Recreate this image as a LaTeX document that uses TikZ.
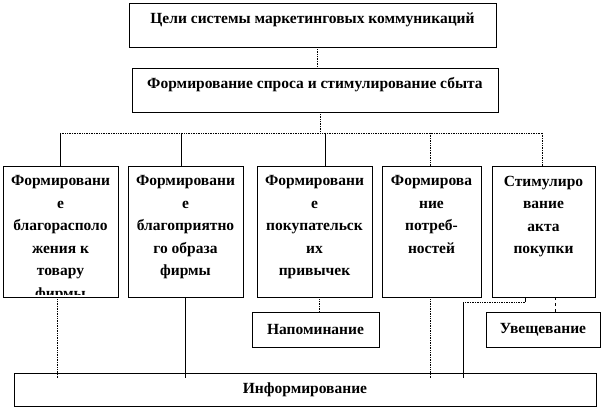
\documentclass[tikz,border=0pt]{standalone}
\usepackage{fontspec}
\setmainfont{Liberation Serif}
\usetikzlibrary{calc}
\begin{document}
\begin{tikzpicture}[x=1pt, y=-1pt,
    every node/.style={font=\fontsize{15.5}{22.5}\selectfont\bfseries, align=center},
    cell/.style={rectangle, draw=black, line width=0.8pt, inner sep=0pt},
    celltext/.style={anchor=north, inner sep=0pt, yshift=-10pt},
    link/.style={black, line width=0.7pt},
    dlink/.style={link, densely dotted},
]
    \useasboundingbox (0,0) rectangle (603,409);
    % upper levels
    \node[cell, minimum width=367pt, minimum height=44pt] (goal) at (312.5,25) {};
    \node (goalt) at ([yshift=5pt]goal.center) {Цели системы маркетинговых коммуникаций};
    \node[cell, minimum width=366pt, minimum height=44pt] (demand) at (315,90) {};
    \node (demandt) at ([yshift=5pt]demand.center) {Формирование спроса и стимулирование сбыта};
    \draw[dlink] (goal.south -| 317,0) -- (demand.north -| 317,0);
    % bus
    \coordinate (t1) at (60,133);
    \coordinate (t2) at (181,133);
    \coordinate (t3) at (325,133);
    \coordinate (t4) at (430,133);
    \coordinate (t5) at (542,133);
    \draw[dlink] (demand.south -| 320,0) -- (320,133);
    \draw[dlink] (t1) -- (t5);
    % row of goals
    \node[cell, minimum width=115pt, minimum height=131pt] (b1) at (60.5,231.5) {};
    \node[cell, minimum width=115pt, minimum height=131pt] (b2) at (185.5,231.5) {};
    \node[cell, minimum width=115pt, minimum height=131pt] (b3) at (314.5,231.5) {};
    \node[cell, minimum width=99pt, minimum height=131pt] (b4) at (431.5,231.5) {};
    \node[cell, minimum width=103pt, minimum height=131pt] (b5) at (543.5,231.5) {};
    \begin{scope}
        \clip (b1.north west) rectangle ([yshift=3pt]b1.south east);
        \node[celltext] (b1t) at (b1.north) {Формировани\\е\\благорасполо\\жения к\\товару\\фирмы};
    \end{scope}
    \node[celltext] (b2t) at (b2.north) {Формировани\\е\\благоприятно\\го образа\\фирмы};
    \node[celltext] (b3t) at (b3.north) {Формировани\\е\\покупательск\\их\\привычек};
    \node[celltext] (b4t) at (b4.north) {Формирова\\ние\\потреб-\\ностей};
    \node[celltext] (b5t) at (b5.north) {Стимулиро\\вание\\акта\\покупки};
    \draw[link] (t1) -- (t1 |- b1.north);
    \draw[link] (t2) -- (t2 |- b2.north);
    \draw[link] (t3) -- (t3 |- b3.north);
    \draw[dlink] (t4) -- (t4 |- b4.north);
    \draw[dlink] (t5) -- (t5 |- b5.north);
    % lower level
    \node[cell, minimum width=127pt, minimum height=35pt] (remind) at (315.5,329.5) {Напоминание};
    \node[cell, minimum width=114pt, minimum height=35pt] (persuade) at (543,329.5) {Увещевание};
    \node[cell, minimum width=582pt, minimum height=33pt] (inform) at (305,389.5) {Информирование};
    \coordinate (d1) at (57,300);
    \coordinate (d2) at (185,300);
    \coordinate (d3) at (319,300);
    \coordinate (d4) at (430,300);
    \coordinate (d5) at (525,300);
    \coordinate (d6) at (555,300);
    \coordinate (kink) at (463,302);
    \draw[dlink, shorten >=-5pt] (d1 |- b1.south) -- (d1 |- inform.north);
    \draw[link, shorten >=-5pt] (d2 |- b2.south) -- (d2 |- inform.north);
    \draw[dlink] (d3 |- b3.south) -- (d3 |- remind.north);
    \draw[dlink, shorten >=-5pt] (d4 |- b4.south) -- (d4 |- inform.north);
    \draw[link] (d5 |- b5.south) -- (d5 |- kink);
    \draw[dlink] (d5 |- kink) -- (kink);
    \draw[link, shorten >=-5pt] (kink) -- (kink |- inform.north);
    \draw[link, dashed] (d6 |- b5.south) -- (d6 |- persuade.north);
\end{tikzpicture}
\end{document}
